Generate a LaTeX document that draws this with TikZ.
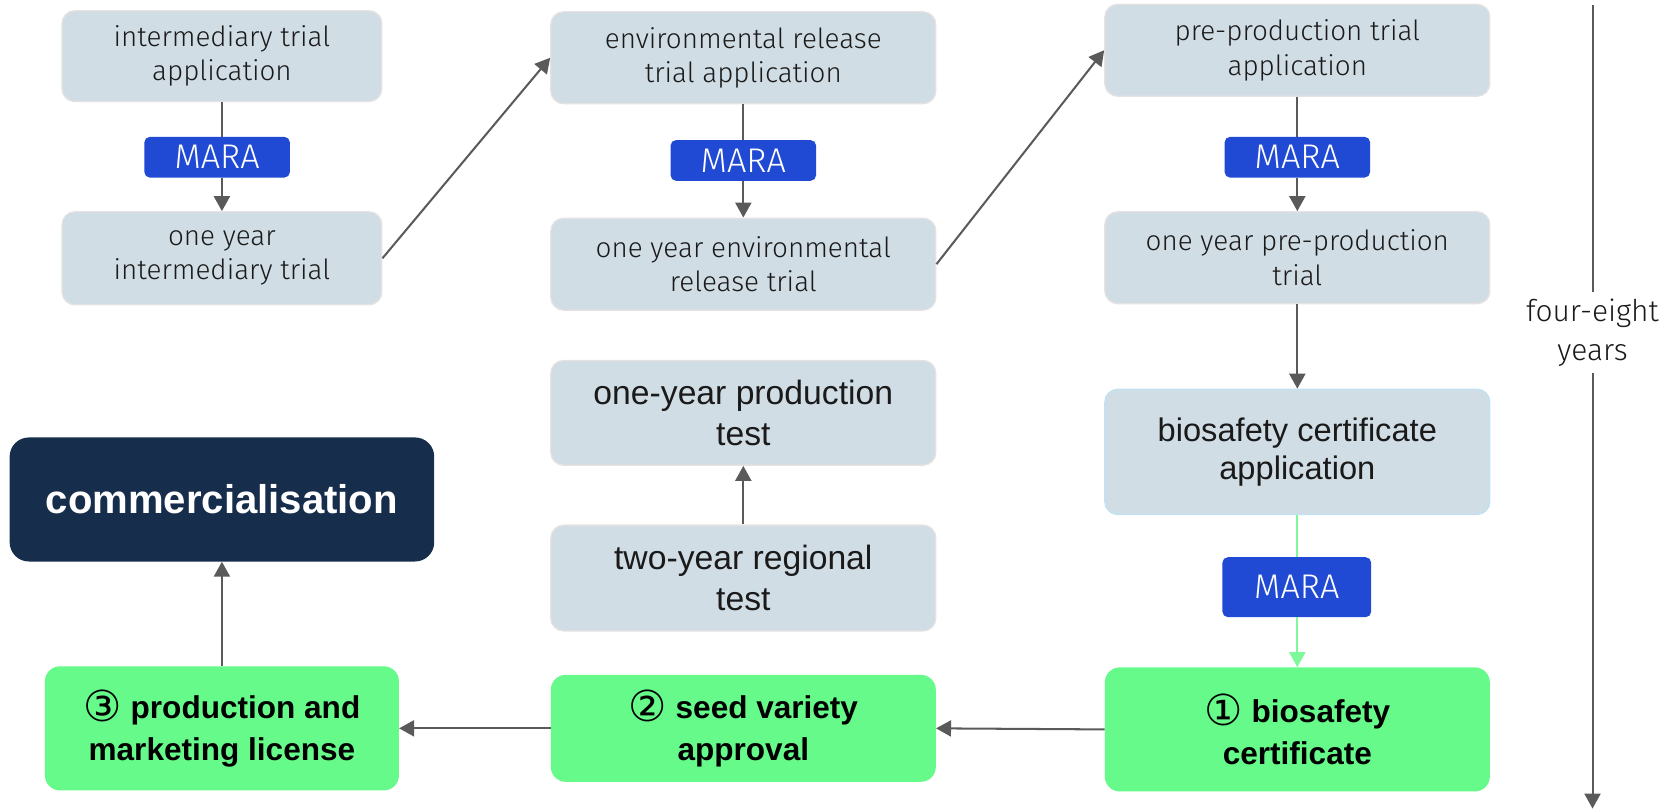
\documentclass[tikz,border=0pt]{standalone}
\usepackage{fontspec}
\setmainfont{Liberation Sans}
\newfontfamily\symf{DejaVu Sans}
\newfontfamily\lightf{Fira Sans}[UprightFont=* Light]
\usetikzlibrary{arrows.meta}
\definecolor{boxgray}{HTML}{D1DDE5}
\definecolor{boxedge}{HTML}{E6E2E2}
\definecolor{maraBlue}{HTML}{2049D4}
\definecolor{okgreen}{HTML}{66FA8A}
\definecolor{navy}{HTML}{172D4C}
\definecolor{arrgray}{HTML}{5A5A5A}
\definecolor{lgreen}{HTML}{7DF89A}
\definecolor{txt}{HTML}{1A1A1A}
\definecolor{cedge}{HTML}{C0E2F2}
\newcommand\circnum[1]{\raisebox{-3pt}{\symf\mdseries\fontsize{40}{40}\selectfont #1}}
\begin{document}
\begin{tikzpicture}[x=1pt,y=-1pt,
 gbox/.style={draw=boxedge, line width=1.2pt, fill=boxgray, rounded corners=12pt, inner sep=0pt, align=center, text=txt},
 tsmall/.style={font=\lightf\fontsize{26}{32}\selectfont},
 tbig/.style={font=\fontsize{31.5}{39}\selectfont},
 mara/.style={fill=maraBlue, rounded corners=5pt, text=white, inner sep=0pt, minimum width=136pt, minimum height=38pt, font=\lightf\fontsize{32}{34}\selectfont},
 greenbox/.style={fill=okgreen, rounded corners=14pt, inner sep=0pt, align=center, text=black, font=\bfseries\fontsize{29.5}{39}\selectfont},
 conn/.style={draw=arrgray, line width=1.9pt},
 arr/.style={conn, -{Triangle[length=14pt,width=15pt]}},
 garr/.style={draw=lgreen, line width=1.9pt, -{Triangle[length=14pt,width=15pt]}},
]
\useasboundingbox (0,0) rectangle (1568,758);

% column A
\node[gbox, tsmall, minimum width=299pt, minimum height=85pt] (A1) at (207.5,52.5) {intermediary trial\\application};
\node[mara] (M1) at (203,147) {MARA};
\node[gbox, tsmall, minimum width=299pt, minimum height=87pt] (A2) at (207.5,241.5) {one year\\intermediary trial};
\node[fill=navy, rounded corners=18pt, inner sep=0pt, minimum width=397pt, minimum height=116pt, text=white, font=\bfseries\fontsize{37.5}{45}\selectfont] (A3) at (207.5,467) {commercialisation};
\node[greenbox, minimum width=331pt, minimum height=116pt] (A4) at (207.5,681) {\circnum{③} production and\\marketing license};

% column B
\node[gbox, tsmall, minimum width=360pt, minimum height=86pt] (B1) at (695,54) {environmental release\\trial application};
\node[mara] (M2) at (695,150) {MARA};
\node[gbox, tsmall, minimum width=360pt, minimum height=86pt] (B2) at (695,247) {one year environmental\\release trial};
\node[gbox, tbig, minimum width=360pt, minimum height=98pt] (B3) at (695,386) {one-year production\\test};
\node[gbox, tbig, minimum width=360pt, minimum height=99pt] (B4) at (695,540.5) {two-year regional\\test};
\node[greenbox, minimum width=360pt, minimum height=100pt] (B5) at (695,681) {\circnum{②} seed variety\\approval};

% column C
\node[gbox, tsmall, minimum width=360pt, minimum height=86pt] (C1) at (1213,47) {pre-production trial\\application};
\node[mara] (M3) at (1213,147) {MARA};
\node[gbox, tsmall, minimum width=360pt, minimum height=86pt] (C2) at (1213,241) {one year pre-production\\trial};
\node[gbox, draw=cedge, minimum width=360pt, minimum height=117pt, font=\fontsize{30.5}{35}\selectfont] (C3) at (1213,422.5) {biosafety certificate\\application};
\node[mara, minimum width=139pt, minimum height=56pt] (M4) at (1212.5,549) {MARA};
\node[greenbox, minimum width=360pt, minimum height=116pt] (C4) at (1213,682) {\circnum{①} biosafety\\certificate};

% timeline
\coordinate (tTop) at (1489,5);
\coordinate (tBot) at (1489,756);
\node[inner sep=6pt, align=center, text=txt, font=\lightf\fontsize{28}{36}\selectfont] (tl) at (1489,311) {four-eight\\years};
\draw[conn] (tTop) -- (tl.north);
\draw[arr] (tl.south) -- (tBot);

% connectors
\draw[conn] (A1.south) -- (A1.south |- M1.north);
\draw[arr] (A1.south |- M1.south) -- (A2.north);
\draw[arr] (A2.east) -- (B1.west);
\draw[conn] (B1.south) -- (B1.south |- M2.north);
\draw[arr] (B1.south |- M2.south) -- (B2.north);
\draw[arr] (B2.east) -- (C1.west);
\draw[conn] (C1.south) -- (C1.south |- M3.north);
\draw[arr] (C1.south |- M3.south) -- (C2.north);
\draw[arr] (C2.south) -- (C3.north);
\draw[draw=lgreen, line width=1.9pt] (C3.south) -- (C3.south |- M4.north);
\draw[garr] (C3.south |- M4.south) -- (C4.north);
\draw[arr] (C4.west) -- (B5.east);
\draw[arr] (B5.west) -- (A4.east);
\draw[arr] (A4.north) -- (A3.south);
\draw[arr] (B4.north) -- (B3.south);
\end{tikzpicture}
\end{document}
